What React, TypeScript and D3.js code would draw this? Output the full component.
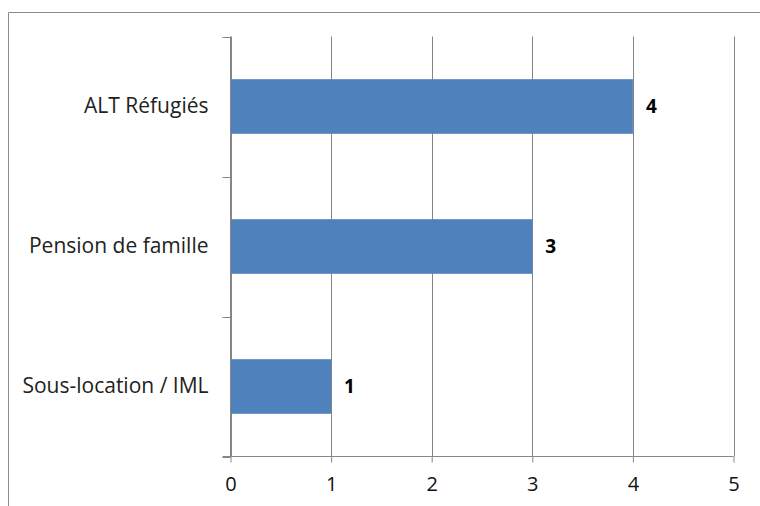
import { useEffect, useRef } from 'react';
import * as d3 from 'd3';

const categories = ['ALT Réfugiés', 'Pension de famille', 'Sous-location / IML'];
const values = [4, 3, 1];
const xTicks = [0, 1, 2, 3, 4, 5];

const WIDTH = 760;
const HEIGHT = 506;
const FONT = '"Open Sans", sans-serif';

export default function App() {
  const svgRef = useRef<SVGSVGElement>(null);

  useEffect(() => {
    if (!svgRef.current) return;
    const svg = d3.select(svgRef.current);
    svg.selectAll('*').remove();

    const plot = { left: 230.5, right: 733.5, top: 36.5, bottom: 456.5 };

    const x = d3.scaleLinear().domain([0, 5]).range([plot.left, plot.right]);
    const y = d3.scaleBand<string>().domain(categories).range([plot.top, plot.bottom]);
    const barH = y.bandwidth() * 0.39;

    // outer chart frame (left and top edges only show in the crop)
    svg.append('line')
      .attr('x1', 8.5).attr('x2', 8.5)
      .attr('y1', 12.5).attr('y2', HEIGHT)
      .attr('stroke', '#8a8a8a');
    svg.append('line')
      .attr('x1', 8.5).attr('x2', WIDTH)
      .attr('y1', 12.5).attr('y2', 12.5)
      .attr('stroke', '#8a8a8a');

    // vertical gridlines
    svg.append('g')
      .selectAll('line')
      .data(xTicks)
      .join('line')
      .attr('x1', d => Math.round(x(d)) + 0.5)
      .attr('x2', d => Math.round(x(d)) + 0.5)
      .attr('y1', plot.top)
      .attr('y2', plot.bottom)
      .attr('stroke', '#868686')
      .attr('stroke-width', 1);

    // bars
    svg.append('g')
      .selectAll('rect')
      .data(values)
      .join('rect')
      .attr('x', x(0) + 0.5)
      .attr('y', (_, i) => y(categories[i])! + (y.bandwidth() - barH) / 2)
      .attr('width', d => x(d) - x(0) - 0.5)
      .attr('height', barH)
      .attr('fill', '#4f81bd');

    // value labels
    svg.append('g')
      .selectAll('text')
      .data(values)
      .join('text')
      .attr('x', d => x(d) + 13)
      .attr('y', (_, i) => y(categories[i])! + y.bandwidth() / 2)
      .attr('dy', '0.36em')
      .attr('font-family', FONT)
      .attr('font-size', 19)
      .attr('font-weight', 'bold')
      .attr('fill', '#000')
      .text(d => d);

    // x axis
    const xAxis = d3.axisBottom(x)
      .tickValues(xTicks)
      .tickFormat(d3.format('d'))
      .tickSizeInner(6)
      .tickSizeOuter(0)
      .tickPadding(14);
    const gx = svg.append('g')
      .attr('transform', `translate(0,${plot.bottom})`)
      .call(xAxis);
    gx.select('.domain').remove();
    gx.selectAll('.tick line').attr('stroke', '#868686');
    gx.selectAll('.tick text')
      .attr('font-family', FONT)
      .attr('font-size', 20)
      .attr('fill', '#111');
    gx.append('line')
      .attr('x1', plot.left - 8)
      .attr('x2', plot.right)
      .attr('y1', 0)
      .attr('y2', 0)
      .attr('stroke', '#868686');

    // y axis
    const yAxis = d3.axisLeft(y).tickSize(0).tickPadding(22);
    const gy = svg.append('g')
      .attr('transform', `translate(${plot.left},0)`)
      .call(yAxis);
    gy.select('.domain').remove();
    gy.selectAll('.tick text')
      .attr('font-family', FONT)
      .attr('font-size', 21)
      .attr('fill', '#222');
    // category separators
    const bounds = categories.map(c => y(c)!).concat([plot.bottom]);
    gy.selectAll('line.sep')
      .data(bounds)
      .join('line')
      .attr('class', 'sep')
      .attr('x1', -8)
      .attr('x2', 0)
      .attr('y1', d => Math.round(d) + 0.5)
      .attr('y2', d => Math.round(d) + 0.5)
      .attr('stroke', '#868686');
    gy.append('line')
      .attr('x1', 0)
      .attr('x2', 0)
      .attr('y1', plot.top)
      .attr('y2', plot.bottom)
      .attr('stroke', '#868686');
  }, []);

  return (
    <div style={{ position: 'absolute', left: 0, top: 0, width: WIDTH, height: HEIGHT, overflow: 'hidden', background: '#fff' }}>
      <svg ref={svgRef} width={WIDTH} height={HEIGHT} style={{ display: 'block' }} />
    </div>
  );
}
